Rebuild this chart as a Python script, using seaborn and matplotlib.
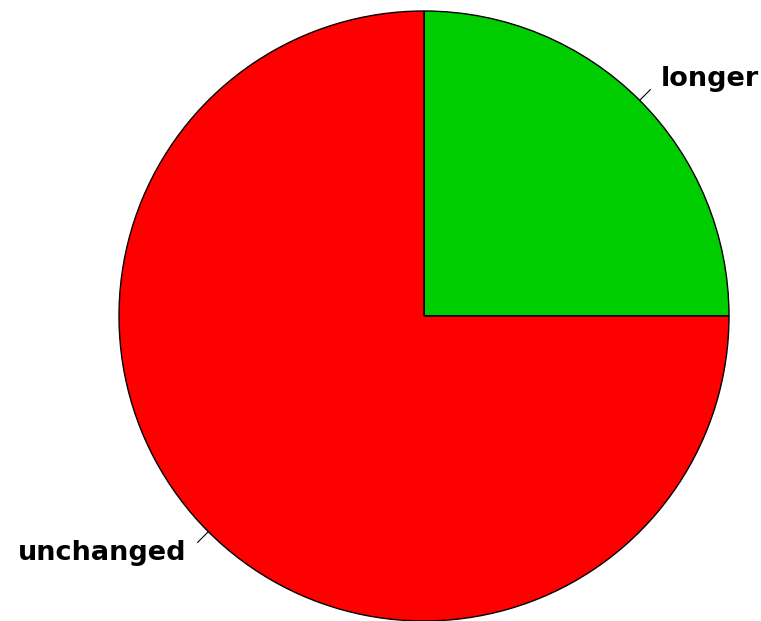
import numpy as np
import matplotlib
matplotlib.use('Agg')
import matplotlib.pyplot as plt
import seaborn as sns

labels = ['longer', 'unchanged']
values = [25, 75]
colors = ['#00CD00', '#FF0000']

sns.set_style('white')
plt.rcParams['font.family'] = ['DejaVu Sans']

fig = plt.figure(figsize=(7.61, 6.21), dpi=100)
ax = fig.add_axes([0, 0, 1, 1])

cx, cy, r = 424, 305, 305  # centre and radius in pixel units
wedges, texts = ax.pie(values, labels=labels, colors=colors, startangle=0, counterclock=True,
                       center=(cx, cy), radius=r, labeldistance=1.1,
                       wedgeprops=dict(edgecolor='black', linewidth=1),
                       textprops=dict(fontsize=19.5, fontweight='bold', color='black'))

# short label ticks from the rim, like R's pie(); fix label alignment
frac = np.cumsum([0] + values) / sum(values)
for t, a0, a1 in zip(texts, frac[:-1], frac[1:]):
    ang = np.pi * (a0 + a1)
    t.set_horizontalalignment('left' if np.cos(ang) >= 0 else 'right')
    t.set_verticalalignment('center')
    ax.plot([cx + r * np.cos(ang), cx + 1.05 * r * np.cos(ang)],
            [cy + r * np.sin(ang), cy + 1.05 * r * np.sin(ang)],
            color='black', lw=0.8)

ax.set_xlim(0, 761)
ax.set_ylim(0, 621)
ax.set_aspect('equal')
ax.axis('off')
fig.savefig('out.png', dpi=100)
